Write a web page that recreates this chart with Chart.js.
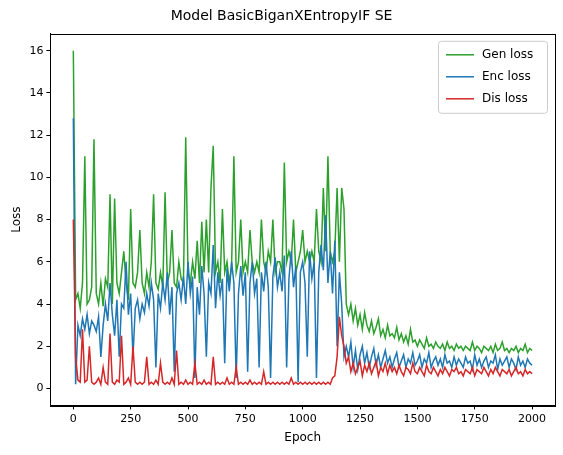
<!DOCTYPE html>
<html><head><meta charset="utf-8">
<script src="https://cdn.jsdelivr.net/npm/chart.js@4"></script>
<style>body{margin:0;background:#fff}#wrap{width:563px;height:455px}</style>
</head><body><div id="wrap"><canvas id="c"></canvas></div>
<script>
var genLoss = [16,4.2,4.5,3.8,5,11,4,4.2,4.8,11.8,
4.5,4,5,3.9,5.2,4.8,9.2,4,9,5,
4.5,5.5,6.5,5,4.2,8.5,5,4.8,5.5,7.5,
5,4.5,5.5,4.8,6,9.2,5,4.7,5.5,4.8,
9.3,5,5.5,7.5,5,4.8,6,5.2,5,11.9,
5.5,5,6,5.2,7,5,7.9,5.5,8,5.5,
9.5,11.5,5.5,6,5,8.5,5.5,6,5,5.8,
11,5.5,6,8,5.5,6,5.5,7.5,6,5.5,
6,5.5,8,6,5.5,6.5,6,8,5.5,6,
6,5.5,10.7,6,6.5,6,8,5.5,6,6.5,
7.5,6,6.5,6,6.5,6,8.5,6.5,6,9.5,
6.5,11,6.5,6,6.5,9.5,6,9.5,8.5,4,
3.5,4,3.2,3.8,3,3.5,2.8,3.6,3,2.7,
3.2,2.6,2.9,3.3,2.5,2.8,2.4,3,2.5,2.6,
2.4,2.9,2.3,2.6,2.2,2.5,2.1,2.8,2.2,2.3,
2,2.3,2.1,1.9,2.4,2,2.1,1.9,2.2,2,
1.9,2.1,1.8,2.2,1.9,2,1.8,2.1,1.9,2,
1.8,2,1.9,1.8,2.2,1.8,2,1.9,1.7,2,
1.9,1.8,2,1.7,2.1,1.8,1.9,2.2,1.8,1.9,
1.7,1.9,1.8,2,1.7,1.9,1.8,2.1,1.7,1.9,
1.8];
var encLoss = [12.8,0.2,3,2.5,3.3,2.8,3.5,2.6,3.2,3,
2.7,3.4,1.5,3,4,3.2,5,3.5,2.5,4.2,
1.5,4,3.8,6,3.5,4.5,1.5,3.8,4.2,3.3,
4,3.6,4.5,3.9,5,4.2,1,4.5,3.8,5,
4.2,5.5,3.5,4.8,0.8,4.5,5,4.2,5.3,4,
6,4.5,5.3,0.5,4.8,3.5,5.8,4.5,1.5,5,
4.5,6.8,3.8,5.5,4.4,5.2,1.2,5.7,4.6,6,
5,0.5,4.5,5.8,4.4,5.5,0.8,5,6,4.5,
5.2,1,5.5,4.6,6,4.8,0.5,5.3,6.2,4.8,
5.5,4.6,6.3,1,5.2,6.5,4.8,5.8,0.3,5.5,
6,5,1.5,6.5,5.2,6,0.5,5.5,6.8,5.6,
8.2,5,6.5,4.5,7,2,5.5,4,1.5,2,
1.5,2.2,1,1.8,0.9,1.6,2,1.2,1.7,1,
1.5,1.9,1.1,1.6,1,1.4,1.8,1.2,1.5,1,
1.4,1.7,1,1.3,1.6,1,1.4,1.2,1.7,1.1,
1.3,1.6,1,1.4,1.2,1.7,1,1.3,1.5,1.1,
1.4,1,1.6,1.2,1.3,1,1.5,1.1,1.4,1.2,
1,1.5,1.2,1.3,0.9,1.6,1.1,1.4,1,1.3,
1.5,1,1.3,1.2,1.6,0.9,1.4,1.1,1.3,1.5,
1,1.4,1.2,0.9,1.5,1.1,1.3,1,1.4,1.2,
1.1];
var disLoss = [8,1.5,0.4,0.3,2.8,0.3,0.4,2,0.3,0.2,
0.3,0.5,0.2,1,0.3,0.2,2.6,0.3,0.2,0.4,
0.3,2.5,0.2,0.3,0.5,0.2,2,0.3,0.2,0.3,
0.2,0.3,1.5,0.2,0.3,0.2,0.4,0.2,1.2,0.3,
0.2,0.3,0.2,0.5,0.2,1.8,0.2,0.3,0.2,0.4,
0.2,0.3,0.2,1.2,0.2,0.3,0.2,0.4,0.2,0.3,
0.2,1.5,0.2,0.3,0.2,0.3,0.2,0.5,0.2,0.3,
0.2,1,0.2,0.3,0.2,0.3,0.2,0.4,0.2,0.3,
0.2,0.3,0.2,0.8,0.2,0.3,0.2,0.3,0.2,0.3,
0.2,0.3,0.2,0.3,0.2,0.5,0.2,0.3,0.2,0.3,
0.2,0.3,0.2,0.3,0.2,0.3,0.2,0.3,0.2,0.3,
0.2,0.3,0.2,0.5,0.6,1.5,3.4,2.5,2,1.2,
1.5,0.8,1.2,0.7,1,1.3,0.6,1.1,0.8,1.2,
0.7,1,1.3,0.6,1,0.8,1.2,0.7,1.1,0.8,
1,0.7,1.1,0.8,0.6,1,0.9,0.7,1.2,0.8,
0.7,1,0.8,0.6,1.1,0.8,0.7,1,0.8,0.6,
0.9,0.7,1,0.8,0.6,0.9,0.8,1,0.7,0.8,
0.6,0.9,0.8,0.7,1,0.6,0.9,0.8,0.7,1,
0.8,0.6,0.9,0.7,1,0.8,0.6,0.9,0.8,0.7,
0.9,0.6,0.8,1,0.7,0.8,0.6,0.9,0.7,0.8,
0.7];
var epochs = genLoss.map(function(v, i){ return i * 10; });
var xTicks = [0,250,500,750,1000,1250,1500,1750,2000];
var yTicks = [0,2,4,6,8,10,12,14,16];
var seriesNames = ["Gen loss","Enc loss","Dis loss"];
var seriesColors = ["#2ca02c","#1f77b4","#d62728"];

function pts(arr){ return arr.map(function(v,i){ return {x: epochs[i], y: v}; }); }

var boxLegend = {
  id: 'boxLegend',
  afterDraw: function(chart){
    var c = chart.ctx, a = chart.chartArea;
    c.save();
    c.strokeStyle = '#000'; c.lineWidth = 1;
    c.strokeRect(Math.round(a.left)+0.5, Math.round(a.top)+0.5, Math.round(a.right-a.left), Math.round(a.bottom-a.top));
    var w = 109, h = 72, x = a.right - w - 8, y = a.top + 7;
    c.fillStyle = 'rgba(255,255,255,0.8)'; c.strokeStyle = '#cccccc';
    c.beginPath(); c.roundRect(x+0.5, y+0.5, w, h, 3); c.fill(); c.stroke();
    c.font = '12px "DejaVu Sans"'; c.textBaseline = 'middle'; c.fillStyle = '#000';
    for (var i = 0; i < 3; i++) {
      var yy = y + 14 + i * 22;
      c.strokeStyle = seriesColors[i]; c.lineWidth = 1.5;
      c.beginPath(); c.moveTo(x + 8, yy); c.lineTo(x + 36, yy); c.stroke();
      c.fillText(seriesNames[i], x + 44, yy);
    }
    c.restore();
  }
};

var ds = [genLoss, encLoss, disLoss].map(function(arr, i){
  return {label: seriesNames[i], data: pts(arr), borderColor: seriesColors[i],
    borderWidth: 1.5, pointRadius: 0, tension: 0, order: 3 - i};
});

var tickGrid = {display: true, drawOnChartArea: false, drawTicks: true, tickLength: 4, color: '#000'};

new Chart(document.getElementById('c'), {
  type: 'line',
  data: {datasets: ds},
  options: {
    responsive: true, maintainAspectRatio: false, animation: false,
    layout: {padding: {left: 8, right: 8, top: 0, bottom: 8}},
    plugins: {
      legend: {display: false}, tooltip: {enabled: false},
      title: {display: true, text: 'Model BasicBiganXEntropyIF SE', color: '#000',
        font: {family: 'DejaVu Sans', size: 14, weight: 'normal'}, padding: {top: 8, bottom: 9}}
    },
    scales: {
      x: {type: 'linear', min: -100, max: 2100,
        afterBuildTicks: function(s){ s.ticks = xTicks.map(function(v){ return {value: v}; }); },
        grid: tickGrid, border: {color: '#000'},
        ticks: {color: '#000', font: {family: 'DejaVu Sans', size: 11}, maxRotation: 0,
          callback: function(v){ return String(v); }},
        title: {display: true, text: 'Epoch', color: '#000', font: {family: 'DejaVu Sans', size: 12}, padding: 2}},
      y: {min: -0.8, max: 16.8,
        afterBuildTicks: function(s){ s.ticks = yTicks.map(function(v){ return {value: v}; }); },
        grid: tickGrid, border: {color: '#000'},
        ticks: {color: '#000', font: {family: 'DejaVu Sans', size: 11},
          callback: function(v){ return String(v); }},
        title: {display: true, text: 'Loss', color: '#000', font: {family: 'DejaVu Sans', size: 12}, padding: 2}}
    }
  },
  plugins: [boxLegend]
});
</script></body></html>
